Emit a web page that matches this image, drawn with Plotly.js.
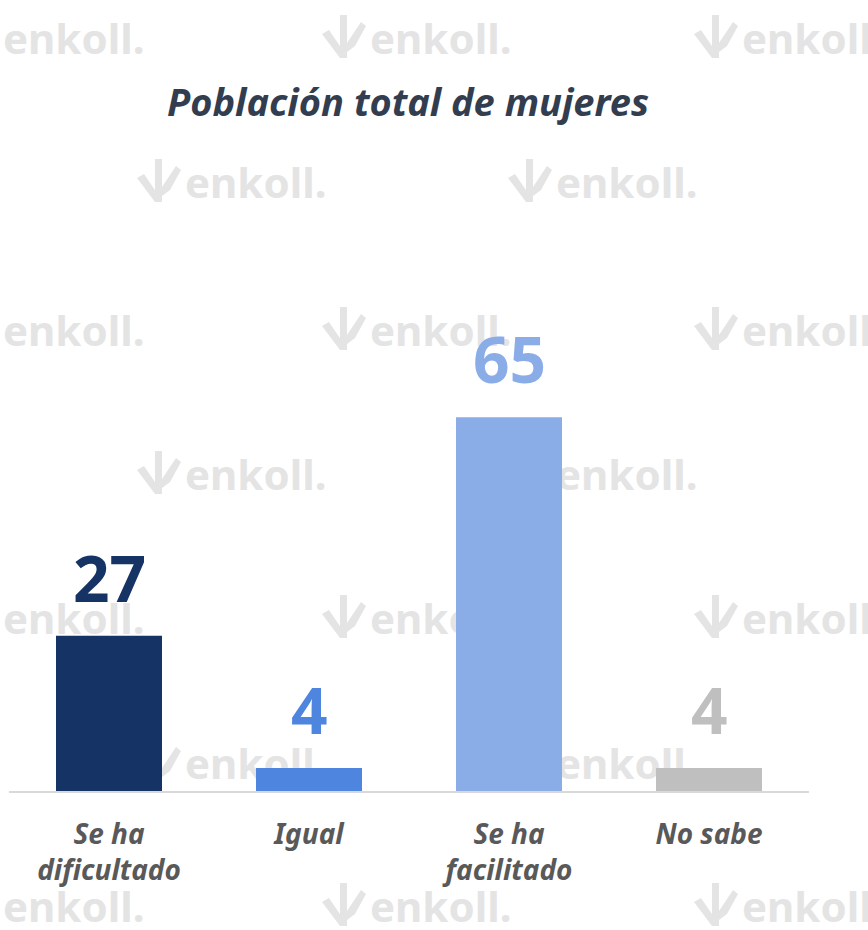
<!DOCTYPE html>
<html>
<head>
<meta charset="utf-8">
<script src="https://cdn.plot.ly/plotly-3.0.1.min.js"></script>
<style>
  html, body { margin: 0; padding: 0; background: #ffffff; }
  #chart { width: 868px; height: 930px; }
</style>
</head>
<body>
<div id="chart"></div>
<script>
// ---- data ----
const categories = ["Se ha<br>dificultado", "Igual", "Se ha<br>facilitado", "No sabe"];
const values = [27, 4, 65, 4];
const barColors = ["#163366", "#4E86DF", "#8AADE8", "#BFBFBF"];
const chartTitle = "Población total de mujeres";

// watermark positions (page pixels: x = left edge of the word, y = from top)
const wmText = "enkoll.";
const wmX = [3, 370, 742, 185, 556, 3, 370, 742, 185, 556, 3, 370, 742, 185, 556, 3, 370, 742];
const wmY = [43, 43, 43, 187, 187, 335, 335, 335, 479, 479, 623, 623, 623, 768, 768, 911, 911, 911];
const wmColor = "#E4E4E4";

// page / plot area in pixels
const W = 868, H = 930;
const plotL = 9, plotR = 809, plotTop = 216, plotBottom = 791;

const watermark = {
  type: "scatter",
  mode: "text",
  x: wmX,
  y: wmY.map(v => H - v),
  text: wmX.map(() => wmText),
  textposition: "middle right",
  textfont: { family: "Noto Sans", size: 42, weight: "bold", color: wmColor },
  cliponaxis: false,
  hoverinfo: "skip",
  showlegend: false,
  xaxis: "x",
  yaxis: "y"
};

const bars = {
  type: "bar",
  x: [0, 1, 2, 3],
  y: values,
  width: 0.53,
  marker: { color: barColors },
  hoverinfo: "skip",
  showlegend: false,
  xaxis: "x2",
  yaxis: "y2"
};

const annotations = values.map((v, i) => ({
  x: i, y: v, xref: "x2", yref: "y2",
  text: String(v),
  showarrow: false,
  yanchor: "bottom",
  yshift: 13,
  font: { family: "Noto Sans", size: 64, weight: "bold", color: barColors[i] }
}));

// simple logo mark left of each watermark word (page px, relative to word start / centre)
function logoShapes(x0, yc) {
  const pts = polys => polys.map(p => {
    let d = p.map((q, k) => (k ? "L" : "M") + (x0 + q[0]) + "," + (H - (yc + q[1]))).join(" ") + " Z";
    return { type: "path", path: d, xref: "x", yref: "y", fillcolor: wmColor, line: { width: 0 }, layer: "below" };
  });
  return pts([
    [[-48, -9], [-41, -13], [-26, 9], [-30, 15]],
    [[-30, -28], [-23, -28], [-23, 15], [-30, 15]],
    [[-23, 0], [-9, -21], [-4, -17], [-15, 3], [-23, 9]]
  ]);
}
const shapes = [];
wmX.forEach((x, i) => { if (x > 50) shapes.push(...logoShapes(x, wmY[i])); });

const layout = {
  width: W, height: H,
  margin: { l: 0, r: 0, t: 0, b: 0, pad: 0 },
  paper_bgcolor: "#ffffff",
  plot_bgcolor: "rgba(0,0,0,0)",
  title: {
    text: chartTitle,
    x: 408 / W, xanchor: "center",
    y: 1 - 103 / H, yanchor: "middle",
    xref: "paper", yref: "container",
    font: { family: "Noto Sans", size: 38, weight: "bold", style: "italic", color: "#323E4F" }
  },
  xaxis: { domain: [0, 1], range: [0, W], visible: false, fixedrange: true },
  yaxis: { domain: [0, 1], range: [0, H], visible: false, fixedrange: true },
  xaxis2: {
    domain: [plotL / W, plotR / W], anchor: "y2", side: "bottom",
    range: [-0.5, 3.5],
    tickmode: "array", tickvals: [0, 1, 2, 3], ticktext: categories,
    ticks: "", showgrid: false, zeroline: false,
    showline: true, linecolor: "#D9D9D9", linewidth: 2,
    tickfont: { family: "Noto Sans", size: 28, weight: "bold", style: "italic", color: "#595959" },
    ticklabelstandoff: 17
  },
  yaxis2: {
    domain: [(H - plotBottom) / H, (H - plotTop) / H], anchor: "x2",
    range: [0, 100],
    visible: false, showgrid: false, zeroline: false
  },
  shapes: shapes,
  annotations: annotations,
  showlegend: false
};

Plotly.newPlot("chart", [watermark, bars], layout, { staticPlot: true, displayModeBar: false });
</script>
</body>
</html>
